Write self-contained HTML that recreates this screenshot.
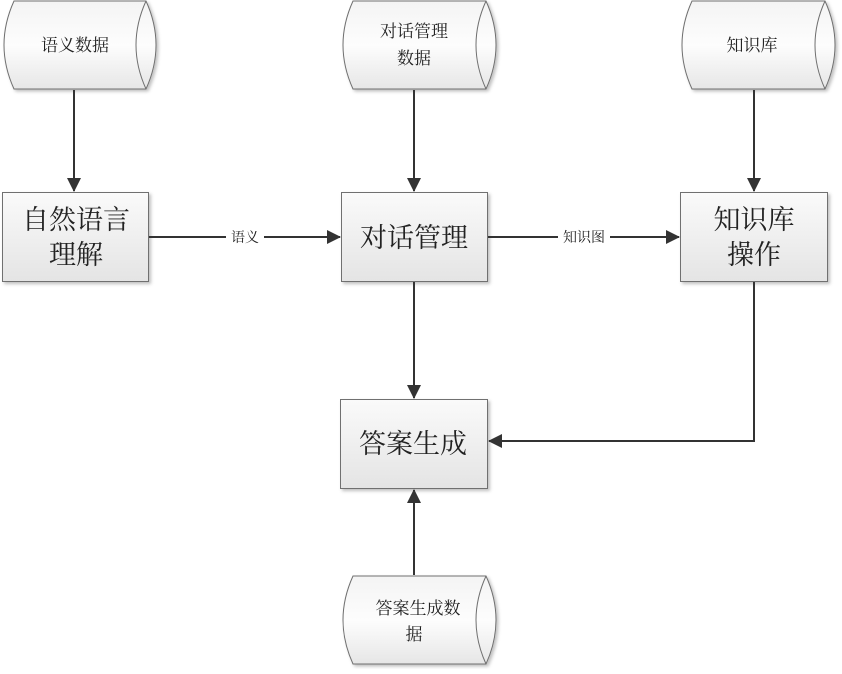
<!DOCTYPE html>
<html><head><meta charset="utf-8"><style>
html,body{margin:0;padding:0;background:#fff}
svg text{font-family:"Liberation Serif","Noto Serif CJK SC",serif;fill:#222}
</style></head><body>
<svg width="842" height="669" viewBox="0 0 842 669" xmlns="http://www.w3.org/2000/svg">
<defs>
<linearGradient id="g" x1="0" y1="0" x2="0" y2="1"><stop offset="0" stop-color="#fafafa"/><stop offset="1" stop-color="#e4e4e4"/></linearGradient>
<linearGradient id="gc" x1="0" y1="0" x2="0" y2="1"><stop offset="0" stop-color="#f4f4f4"/><stop offset="0.5" stop-color="#fdfdfd"/><stop offset="1" stop-color="#e6e6e6"/></linearGradient>
<marker id="a" markerWidth="14" markerHeight="14" refX="13" refY="7" orient="auto" markerUnits="userSpaceOnUse"><path d="M0,0 L14,7 L0,14 Z" fill="#333"/></marker>
<filter id="s" x="-10%" y="-10%" width="130%" height="130%"><feDropShadow dx="2" dy="2" stdDeviation="1.5" flood-color="#000" flood-opacity="0.25"/></filter>
</defs>
<g stroke="#707070" stroke-width="1">
<g filter="url(#s)">
<path d="M14,1 L146,1 Q166,45 146,89 L14,89 Q-6,45 14,1 Z" fill="url(#gc)"/>
<path d="M353,1 L486,1 Q506,45 486,89 L353,89 Q333,45 353,1 Z" fill="url(#gc)"/>
<path d="M692,1 L825,1 Q845,45 825,89 L692,89 Q672,45 692,1 Z" fill="url(#gc)"/>
<path d="M353,576 L486,576 Q506,620 486,664 L353,664 Q333,620 353,576 Z" fill="url(#gc)"/>
</g>
<path d="M146,1 Q126,45 146,89" fill="none"/>
<path d="M486,1 Q466,45 486,89" fill="none"/>
<path d="M825,1 Q805,45 825,89" fill="none"/>
<path d="M486,576 Q466,620 486,664" fill="none"/>
<g filter="url(#s)" fill="url(#g)">
<rect x="2.5" y="192.5" width="146" height="89"/>
<rect x="341.5" y="192.5" width="146" height="89"/>
<rect x="680.5" y="192.5" width="147" height="89"/>
<rect x="340.5" y="399.5" width="147" height="89"/>
</g>
</g>
<g stroke="#333" stroke-width="2" fill="none">
<line x1="74" y1="90" x2="74" y2="191" marker-end="url(#a)"/>
<line x1="414" y1="90" x2="414" y2="191" marker-end="url(#a)"/>
<line x1="754" y1="90" x2="754" y2="191" marker-end="url(#a)"/>
<line x1="149" y1="237" x2="340" y2="237" marker-end="url(#a)"/>
<line x1="488" y1="237" x2="679" y2="237" marker-end="url(#a)"/>
<line x1="414" y1="282" x2="414" y2="398" marker-end="url(#a)"/>
<polyline points="754,282 754,441 489,441" marker-end="url(#a)"/>
<line x1="414" y1="575" x2="414" y2="490" marker-end="url(#a)"/>
</g>
<rect x="226" y="229" width="38" height="16" fill="#fff"/>
<rect x="558" y="229" width="52" height="16" fill="#fff"/>
<g font-size="14" text-anchor="middle">
<text x="245" y="242">语义</text>
<text x="584" y="242">知识图</text>
</g>
<g font-size="17" text-anchor="middle">
<text x="75" y="51">语义数据</text>
<text x="414" y="37">对话管理</text>
<text x="414" y="64">数据</text>
<text x="752" y="51">知识库</text>
<text x="418" y="614">答案生成数</text>
<text x="414" y="640">据</text>
</g>
<g font-size="27" text-anchor="middle">
<text x="76" y="229">自然语言</text>
<text x="76" y="264">理解</text>
<text x="414" y="247">对话管理</text>
<text x="754" y="229">知识库</text>
<text x="754" y="264">操作</text>
<text x="413" y="453">答案生成</text>
</g>
</svg>
</body></html>
